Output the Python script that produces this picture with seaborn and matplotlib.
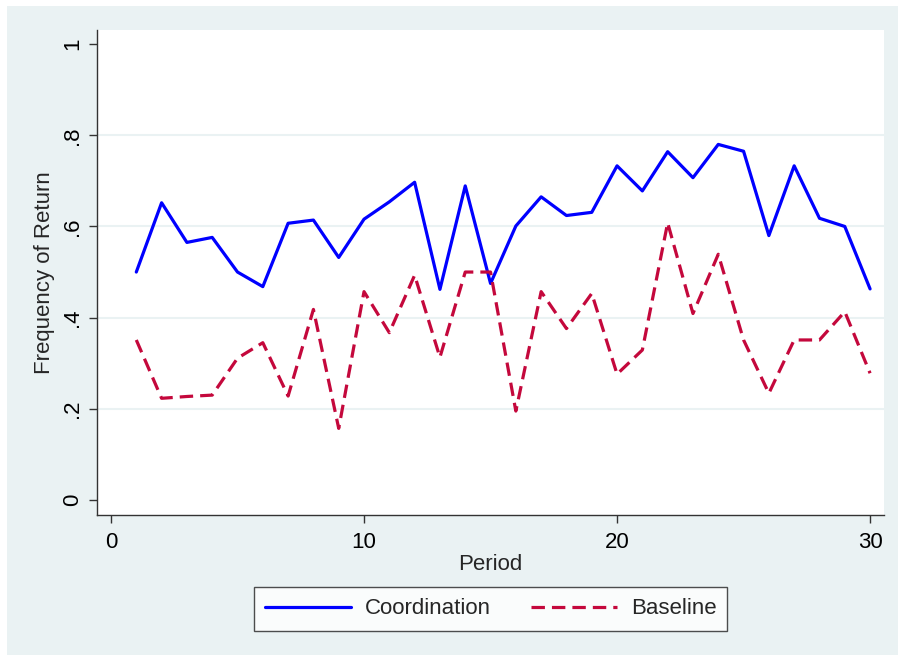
import matplotlib
matplotlib.use("Agg")
import matplotlib.pyplot as plt
import matplotlib.patches as mpatches
import pandas as pd
import seaborn as sns

periods = list(range(1, 31))
coordination = [
    0.50, 0.652, 0.565, 0.576, 0.50, 0.468, 0.607, 0.614, 0.532, 0.616,
    0.654, 0.697, 0.462, 0.689, 0.475, 0.601, 0.665, 0.624, 0.631, 0.733,
    0.678, 0.764, 0.707, 0.780, 0.765, 0.580, 0.733, 0.618, 0.600, 0.463,
]
baseline = [
    0.351, 0.223, 0.227, 0.230, 0.311, 0.345, 0.228, 0.418, 0.157, 0.457,
    0.367, 0.493, 0.313, 0.500, 0.500, 0.195, 0.457, 0.376, 0.453, 0.276,
    0.329, 0.608, 0.409, 0.539, 0.351, 0.234, 0.351, 0.351, 0.413, 0.278,
]
y_ticks = [0, 0.2, 0.4, 0.6, 0.8, 1]
y_ticklabels = ["0", ".2", ".4", ".6", ".8", "1"]
x_ticks = [0, 10, 20, 30]

df = pd.DataFrame({
    "Period": periods * 2,
    "Frequency of Return": coordination + baseline,
    "group": ["Coordination"] * 30 + ["Baseline"] * 30,
})

sns.set_theme(style="white")
plt.rcParams["font.family"] = ["Liberation Sans", "DejaVu Sans"]
fs = 16

fig = plt.figure(figsize=(8.98, 6.55), dpi=100)
fig.patch.set_facecolor("white")
bg = mpatches.Rectangle((7 / 898, 0), 891 / 898, 1 - 6 / 655,
                        transform=fig.transFigure, facecolor="#EAF2F3",
                        edgecolor="none", zorder=-10)
fig.patches.append(bg)

ax = fig.add_axes([97 / 898, 1 - 515 / 655, 787 / 898, 485 / 655])
ax.set_facecolor("white")

palette = {"Coordination": "#0000FF", "Baseline": "#C4083C"}
dashes = {"Coordination": "", "Baseline": (4.2, 2.2)}
sns.lineplot(data=df, x="Period", y="Frequency of Return", hue="group",
             style="group", palette=palette, dashes=dashes, linewidth=2.3,
             ax=ax, legend=False)

ax.set_xlim(-0.553, 30.55)
ax.set_ylim(-0.033, 1.031)
ax.set_yticks(y_ticks)
ax.set_yticklabels(y_ticklabels, rotation=90, va="center")
ax.set_xticks(x_ticks)
ax.tick_params(axis="both", which="major", direction="out", length=6,
               width=1, color="#333333", labelsize=fs, labelcolor="black",
               left=True, bottom=True)
ax.tick_params(axis="y", pad=4)
ax.tick_params(axis="x", pad=6)
for v in y_ticks[1:-1]:
    ax.axhline(v, color="#EAF2F3", linewidth=1.5, zorder=0)
for side in ["top", "right"]:
    ax.spines[side].set_visible(False)
for side in ["left", "bottom"]:
    ax.spines[side].set_color("#333333")
    ax.spines[side].set_linewidth(1.0)
ax.set_xlabel("Period", fontsize=fs, labelpad=1)
ax.set_ylabel("Frequency of Return", fontsize=fs, labelpad=5)

handles = [
    plt.Line2D([], [], color=palette["Coordination"], linewidth=2.3),
    plt.Line2D([], [], color=palette["Baseline"], linewidth=2.3,
               linestyle=(0, (4.2, 2.2))),
]
leg = fig.legend(handles, ["Coordination", "Baseline"], loc="center",
                 bbox_to_anchor=(490.5 / 898, 1 - 609 / 655), ncol=2,
                 fontsize=fs, frameon=True, fancybox=False, handlelength=3.9,
                 handletextpad=0.6, columnspacing=1.8, borderpad=0.5)
leg.get_frame().set_edgecolor("#222222")
leg.get_frame().set_linewidth(1.0)
leg.get_frame().set_facecolor("white")

fig.savefig("out.png", dpi=100)
